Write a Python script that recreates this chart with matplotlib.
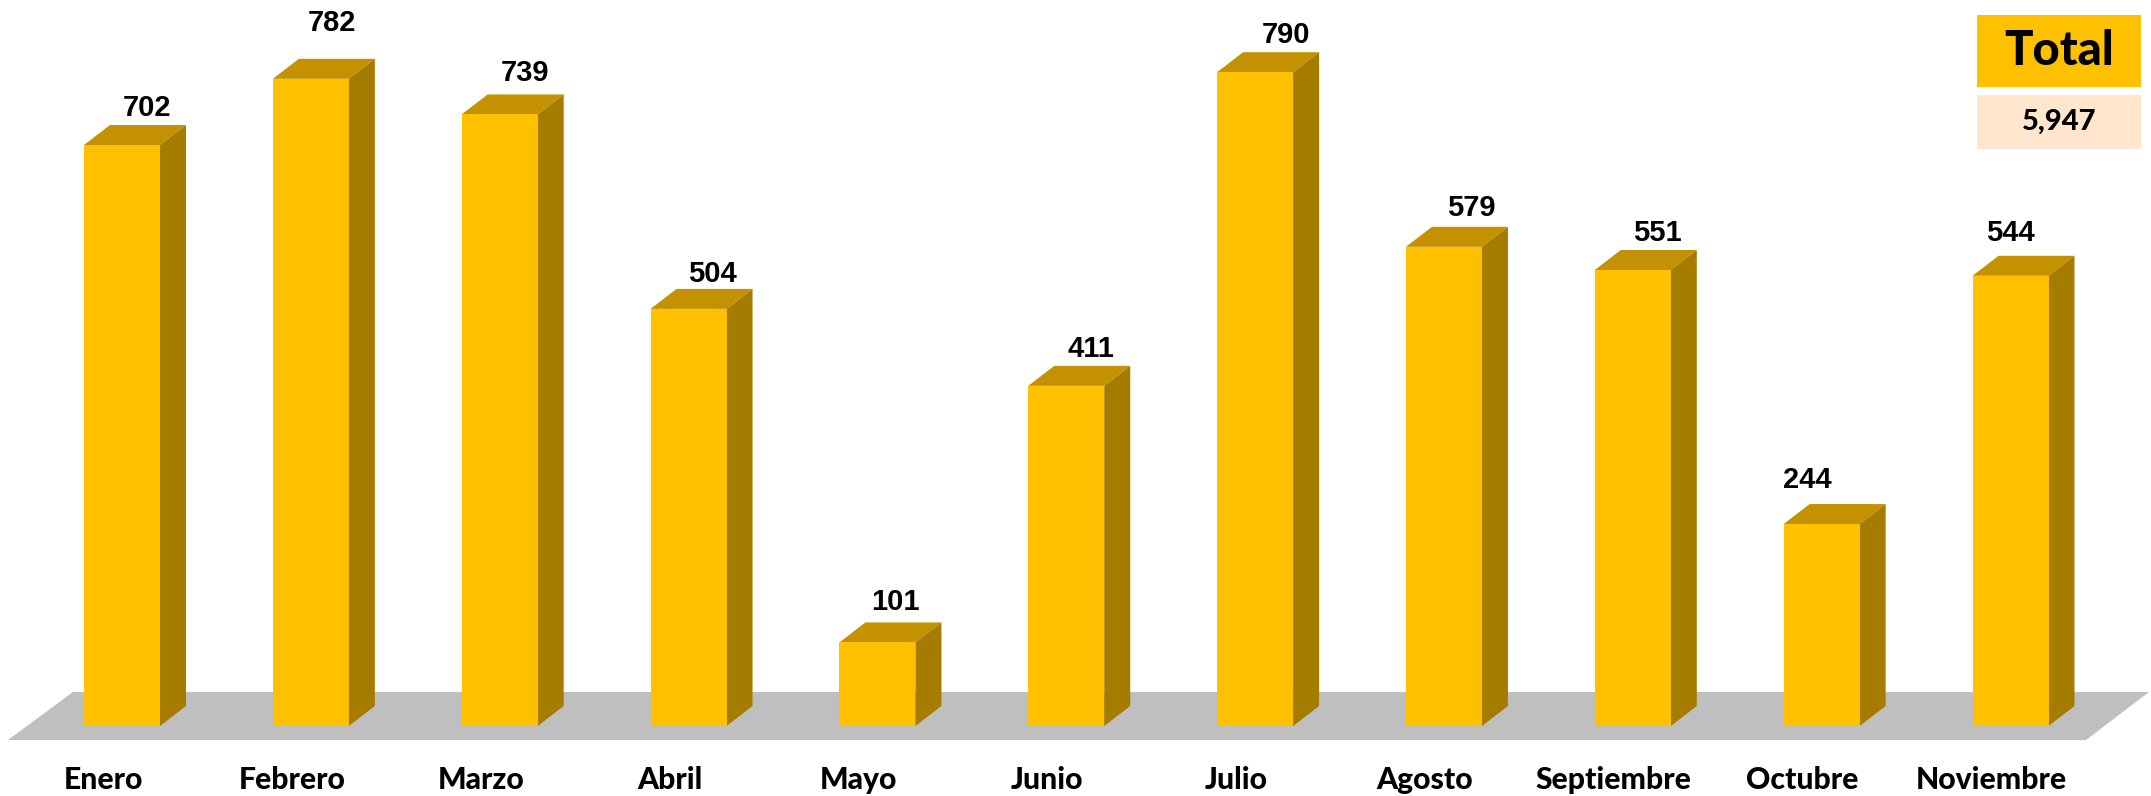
import matplotlib
matplotlib.use("Agg")
import matplotlib.pyplot as plt
from matplotlib.patches import Polygon, Rectangle

months = ["Enero", "Febrero", "Marzo", "Abril", "Mayo", "Junio", "Julio",
          "Agosto", "Septiembre", "Octubre", "Noviembre"]
values = [702, 782, 739, 504, 101, 411, 790, 579, 551, 244, 544]
total_label = "Total"
total_value = "5,947"

# label shift from the bar's top centre, in pixels (hand placed in the original)
label_dx = [25, 21, 25, 24, 18, 25, 31, 27, 25, -14, 0]
label_dy = [37, 56, 41, 35, 40, 37, 37, 39, 37, 44, 43]

W, H = 2151, 796
BAR_FRONT = "#FFC000"
BAR_TOP = "#C49200"
BAR_SIDE = "#A67C00"
FLOOR = "#BFBFBF"
LABEL_FONT = "Lato"
VALUE_FONT = "Liberation Sans"

# pixel layout of the plot: where category 0 and value 0 are
x0_px, x_step_px = 122, 188.85
y0_px, y_unit_px = 726, 0.8276
depth_x_px, depth_y_px = 26, 20

fig = plt.figure(figsize=(W / 100, H / 100), dpi=100, facecolor="white")
ax = fig.add_axes([0, 0, 1, 1])
ax.set_xlim(-x0_px / x_step_px, (W - x0_px) / x_step_px)
ax.set_ylim((y0_px - H) / y_unit_px, y0_px / y_unit_px)
ax.axis("off")

dx = depth_x_px / x_step_px
dy = depth_y_px / y_unit_px


def px(x, y):
    return (x - x0_px) / x_step_px, (y0_px - y) / y_unit_px


# floor
ax.add_patch(Polygon([px(8, 740), px(73, 692), px(2149, 692), px(2086, 740)],
                     closed=True, facecolor=FLOOR, edgecolor="none", zorder=1))

width = 76 / x_step_px
positions = range(len(months))
ax.bar(positions, values, width=width, color=BAR_FRONT, linewidth=0, zorder=3)

for i, v in zip(positions, values):
    left, right = i - width / 2, i + width / 2
    ax.add_patch(Polygon([(left, v), (right, v), (right + dx, v + dy), (left + dx, v + dy)],
                         closed=True, facecolor=BAR_TOP, edgecolor="none", zorder=2))
    ax.add_patch(Polygon([(right, 0), (right + dx, dy), (right + dx, v + dy), (right, v)],
                         closed=True, facecolor=BAR_SIDE, edgecolor="none", zorder=2))
    ax.annotate(str(v), (i, v), xytext=(label_dx[i], label_dy[i]), textcoords="offset pixels",
                ha="center", va="center", fontsize=21, fontweight="bold",
                family=VALUE_FONT, color="black", zorder=4)
    ax.annotate(months[i], (i, 0), xytext=(-19, -54), textcoords="offset pixels",
                ha="center", va="center", fontsize=21.7, fontweight=900,
                family=LABEL_FONT, color="black", zorder=4)

# total box, top right
x_a, y_a = px(1977, 87)
x_b, y_b = px(2141, 15)
ax.add_patch(Rectangle((x_a, y_a), x_b - x_a, y_b - y_a, facecolor=BAR_FRONT, edgecolor="none"))
ax.text((x_a + x_b) / 2, (y_a + y_b) / 2, total_label, ha="center", va="center",
        fontsize=34, fontweight=900, family=LABEL_FONT, color="black")
x_a, y_a = px(1977, 149)
x_b, y_b = px(2141, 95)
ax.add_patch(Rectangle((x_a, y_a), x_b - x_a, y_b - y_a, facecolor="#FFE6CD", edgecolor="none"))
ax.text((x_a + x_b) / 2, (y_a + y_b) / 2, total_value, ha="center", va="center",
        fontsize=21, fontweight=900, family=LABEL_FONT, color="black")

fig.savefig("out.png", dpi=100)
